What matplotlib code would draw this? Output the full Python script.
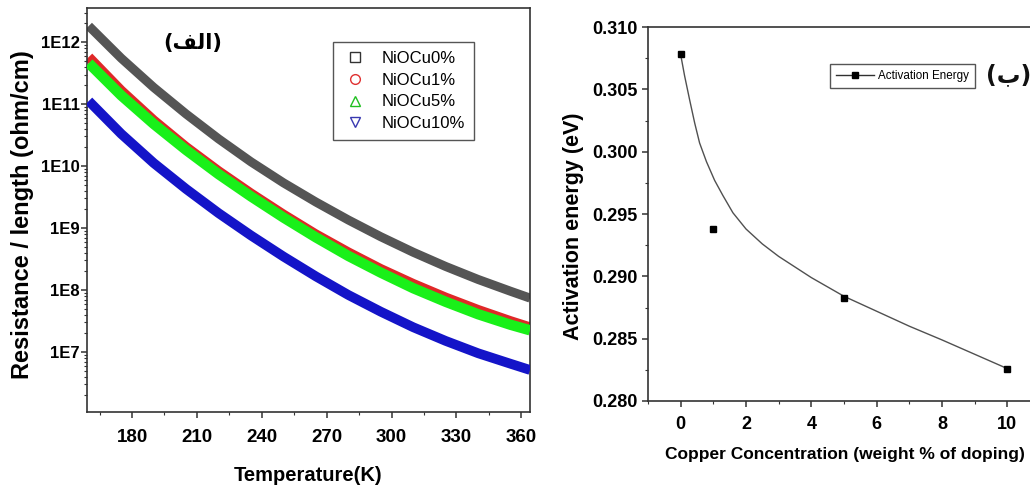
import numpy as np
import matplotlib
matplotlib.use('Agg')
import matplotlib.pyplot as plt
import matplotlib.ticker as ticker
from matplotlib.lines import Line2D

plt.rcParams['font.family'] = ['Liberation Sans', 'DejaVu Sans']
plt.rcParams['axes.linewidth'] = 1.2
plt.rcParams['axes.edgecolor'] = '#333333'

# (a) resistance per length vs temperature
temp_K = [160, 175, 190, 205, 220, 235, 250, 265, 280, 295, 310, 325, 340, 355, 364]
res_cu0 = [1.82e12, 5.50e11, 1.86e11, 6.92e10, 2.75e10, 1.17e10, 5.37e9, 2.63e9,
           1.35e9, 7.24e8, 4.07e8, 2.40e8, 1.48e8, 9.55e7, 7.41e7]
res_cu1 = [5.75e11, 1.66e11, 5.50e10, 2.04e10, 8.32e9, 3.63e9, 1.66e9, 7.94e8,
           4.07e8, 2.19e8, 1.26e8, 7.59e7, 4.79e7, 3.16e7, 2.51e7]
res_cu5 = [4.57e11, 1.38e11, 4.79e10, 1.82e10, 7.41e9, 3.24e9, 1.48e9, 7.08e8,
           3.55e8, 1.91e8, 1.07e8, 6.46e7, 4.07e7, 2.75e7, 2.24e7]
res_cu10 = [1.12e11, 3.31e10, 1.12e10, 4.27e9, 1.74e9, 7.59e8, 3.47e8, 1.66e8,
            8.32e7, 4.47e7, 2.51e7, 1.51e7, 9.55e6, 6.46e6, 5.13e6]
series_labels = ['NiOCu0%', 'NiOCu1%', 'NiOCu5%', 'NiOCu10%']

# (b) activation energy vs Cu doping
cu_wt = [0, 1, 5, 10]
act_energy = [0.3078, 0.2938, 0.2883, 0.2826]
fit_x = [0.0, 0.12, 0.28, 0.43, 0.58, 0.79, 1.04, 1.29, 1.60, 2.0, 2.5, 3.0,
         3.5, 4.0, 5.0, 6.0, 7.0, 8.0, 9.0, 10.0]
fit_y = [0.3078, 0.3061, 0.3041, 0.3023, 0.3007, 0.2992, 0.2977, 0.2965, 0.2951,
         0.2938, 0.2926, 0.2916, 0.29075, 0.2899, 0.2884, 0.2872, 0.2860, 0.2849,
         0.28375, 0.2826]

fig = plt.figure(figsize=(10.3, 4.86), dpi=100)

# ---------------- left panel ----------------
ax1 = fig.add_axes([0.0845, 0.152, 0.4301, 0.8315])
ax1.plot(temp_K, res_cu0, color='#555555', lw=6.5, solid_capstyle='butt', zorder=2)
ax1.plot(temp_K, res_cu1, color='#e02828', lw=7.0, solid_capstyle='butt', zorder=2)
ax1.plot(temp_K, res_cu5, color='#19f019', lw=7.5, solid_capstyle='butt', zorder=3)
ax1.plot(temp_K, res_cu10, color='#1414c8', lw=7.0, solid_capstyle='butt', zorder=3)

ax1.set_yscale('log')
ax1.set_xlim(159.2, 364)
ax1.set_ylim(10**6.03, 10**12.55)
ax1.xaxis.set_major_locator(ticker.MultipleLocator(30))
ax1.xaxis.set_minor_locator(ticker.MultipleLocator(15))
ax1.yaxis.set_major_locator(ticker.LogLocator(base=10, numticks=20))
ax1.yaxis.set_minor_locator(ticker.LogLocator(base=10, subs=np.arange(2, 10), numticks=20))
ax1.yaxis.set_minor_formatter(ticker.NullFormatter())
ax1.yaxis.set_major_formatter(ticker.FuncFormatter(lambda v, p: '1E%d' % round(np.log10(v))))
ax1.tick_params(axis='both', which='both', direction='out', top=False, right=False, color='#333333')
ax1.tick_params(axis='both', which='major', length=4, width=1.1)
ax1.tick_params(axis='both', which='minor', length=2.5, width=0.8)
ax1.tick_params(axis='x', which='major', labelsize=13.5, pad=8)
ax1.tick_params(axis='y', which='major', labelsize=12, pad=1)
for lab in ax1.get_xticklabels() + ax1.get_yticklabels():
    lab.set_fontweight('bold')

handles = [
    Line2D([], [], ls='none', marker='s', ms=6.5, mfc='none', mec='#333333', mew=1.0),
    Line2D([], [], ls='none', marker='o', ms=7, mfc='none', mec='#e03030', mew=1.0),
    Line2D([], [], ls='none', marker='^', ms=7.5, mfc='none', mec='#20c020', mew=1.0),
    Line2D([], [], ls='none', marker='v', ms=7.5, mfc='none', mec='#3838b0', mew=1.0),
]
leg1 = ax1.legend(handles, series_labels, loc='upper left', bbox_to_anchor=(0.555, 0.916),
                  borderaxespad=0, fontsize=12, fancybox=False, edgecolor='#555555',
                  framealpha=1, handlelength=1.6, handletextpad=0.75, labelspacing=0.4,
                  borderpad=0.55)
leg1.get_frame().set_linewidth(1.0)

ax1.text(0.239, 0.913, '(\ufed2\ufedf\ufe8d)', transform=ax1.transAxes, ha='center', va='center',
         fontsize=15, fontweight='bold', family=['DejaVu Sans'])

fig.text(0.0214, 0.5576, 'Resistance / length (ohm/cm)', rotation=90, ha='center', va='center',
         fontsize=17, fontweight='bold')
fig.text(0.299, 0.0226, 'Temperature(K)', ha='center', va='center', fontsize=14.5, fontweight='bold')

# ---------------- right panel ----------------
ax2 = fig.add_axes([0.6291, 0.1749, 0.3806, 0.7695])
ax2.plot(fit_x, fit_y, color='#505050', lw=1.0, zorder=2, solid_joinstyle='round')
ax2.plot(cu_wt, act_energy, ls='none', marker='s', ms=4.5, color='black', zorder=3)
ax2.set_xlim(-1, 11)
ax2.set_ylim(0.280, 0.310)
ax2.spines['right'].set_visible(False)
ax2.xaxis.set_major_locator(ticker.MultipleLocator(2))
ax2.xaxis.set_minor_locator(ticker.MultipleLocator(1))
ax2.yaxis.set_major_locator(ticker.MultipleLocator(0.005))
ax2.yaxis.set_minor_locator(ticker.MultipleLocator(0.0025))
ax2.yaxis.set_major_formatter(ticker.FormatStrFormatter('%.3f'))
ax2.tick_params(axis='both', which='both', direction='out', top=False, right=False, color='#333333')
ax2.tick_params(axis='both', which='major', length=4.5, width=1.1, labelsize=13)
ax2.tick_params(axis='both', which='minor', length=2.5, width=0.8)
ax2.tick_params(axis='x', which='major', pad=6)
ax2.tick_params(axis='y', which='major', pad=3)
for lab in ax2.get_xticklabels() + ax2.get_yticklabels():
    lab.set_fontweight('bold')

leg_handle = Line2D([], [], color='#303030', lw=1.0, marker='s', ms=4.5, mfc='black', mec='black')
leg2 = ax2.legend([leg_handle], ['Activation Energy'], loc='upper left',
                  bbox_to_anchor=(0.464, 0.901), borderaxespad=0, fancybox=False,
                  edgecolor='#555555', framealpha=1, handlelength=3.3, handletextpad=0.35,
                  borderpad=0.5, prop={'size': 8.4})
leg2.get_frame().set_linewidth(1.0)

fig.text(0.957, 0.846, '(\ufe8f)', ha='left', va='center', fontsize=17, fontweight='bold',
         family=['DejaVu Sans'], color='#111111')

fig.text(0.557, 0.535, 'Activation energy (eV)', rotation=90, ha='center', va='center',
         fontsize=15.5, fontweight='bold')
fig.text(0.820, 0.064, 'Copper Concentration (weight % of doping)', ha='center', va='center',
         fontsize=12.5, fontweight='bold')

fig.savefig('out.png', dpi=100)
